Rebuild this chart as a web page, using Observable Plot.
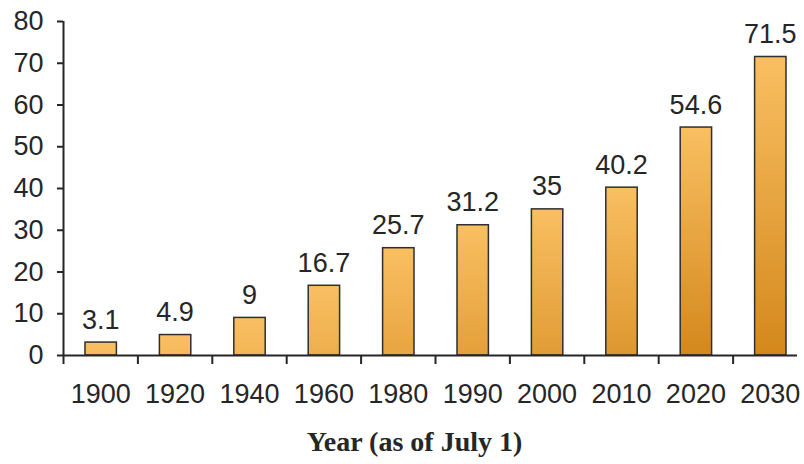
<!DOCTYPE html>
<html>
<head>
<meta charset="utf-8">
<script src="https://cdn.jsdelivr.net/npm/d3@7"></script>
<script src="https://cdn.jsdelivr.net/npm/@observablehq/plot@0.6"></script>
<style>
  html, body { margin: 0; padding: 0; background: #fff; }
</style>
</head>
<body>
<div id="chart"></div>
<script>
const years = ["1900", "1920", "1940", "1960", "1980", "1990", "2000", "2010", "2020", "2030"];
const values = [3.1, 4.9, 9, 16.7, 25.7, 31.2, 35, 40.2, 54.6, 71.5];
const yTicks = [0, 10, 20, 30, 40, 50, 60, 70, 80];
const xTitle = "Year (as of July 1)";

const data = years.map((year, i) => ({year, value: values[i], i}));
const ink = "#262626";

const chart = Plot.plot({
  width: 804,
  height: 464,
  marginLeft: 63,
  marginRight: 7,
  marginTop: 21,
  marginBottom: 109,
  x: {type: "linear", domain: [0, years.length], range: [63, 807], axis: null, label: null},
  y: {domain: [0, 80], axis: null, label: null},
  color: {type: "identity"},
  style: {fontFamily: "'Liberation Sans', Arial, sans-serif", color: ink, background: "#fff"},
  marks: [
    Plot.rectY(data, {
      x1: "i", x2: d => d.i + 1, y1: 0, y2: "value",
      insetLeft: 22, insetRight: 21,
      fill: d => `url(#bargrad${d.i})`,
      stroke: "#2e2e2e", strokeWidth: 1.5
    }),
    Plot.ruleY([0], {stroke: ink, strokeWidth: 2}),
    Plot.ruleX([0], {y1: 0, y2: 80, stroke: ink, strokeWidth: 2}),
    Plot.axisY({ticks: yTicks, tickSize: 6, tickPadding: 14, fontSize: 27, strokeWidth: 2, label: null}),
    Plot.axisX({ticks: d3.range(0, years.length), tickSize: 9, tickFormat: () => "", strokeWidth: 2, label: null}),
    Plot.axisX({ticks: d3.range(0, years.length).map(i => i + 0.5), tickSize: 0, tickPadding: 28,
      tickFormat: v => years[Math.floor(v)], fontSize: 27, label: null}),
    Plot.text(data, {x: d => d.i + 0.5, y: "value", text: d => String(d.value), dy: -14,
      lineAnchor: "bottom", fontSize: 27, fill: ink}),
    Plot.text([xTitle], {frameAnchor: "bottom", dx: -16, dy: 95, lineAnchor: "bottom",
      fontFamily: "'Liberation Serif', 'Times New Roman', serif", fontWeight: "bold", fontSize: 28, fill: ink})
  ]
});

// per-bar gradients: light at the top, darkening with distance from the top
const yScale = chart.scale("y");
const light = "#f9bf62", dark = "#d4881c";
const svgSel = d3.select(chart);
const defs = svgSel.insert("defs", ":first-child");
data.forEach(d => {
  const h = yScale.apply(0) - yScale.apply(d.value);
  const t = Math.min(1, h / 230);
  const g = defs.append("linearGradient").attr("id", `bargrad${d.i}`)
    .attr("x1", 0).attr("y1", 0).attr("x2", 0).attr("y2", 1);
  g.append("stop").attr("offset", 0).attr("stop-color", light);
  g.append("stop").attr("offset", 1).attr("stop-color", d3.interpolateRgb(light, dark)(t));
});

document.getElementById("chart").appendChild(chart);
</script>
</body>
</html>
